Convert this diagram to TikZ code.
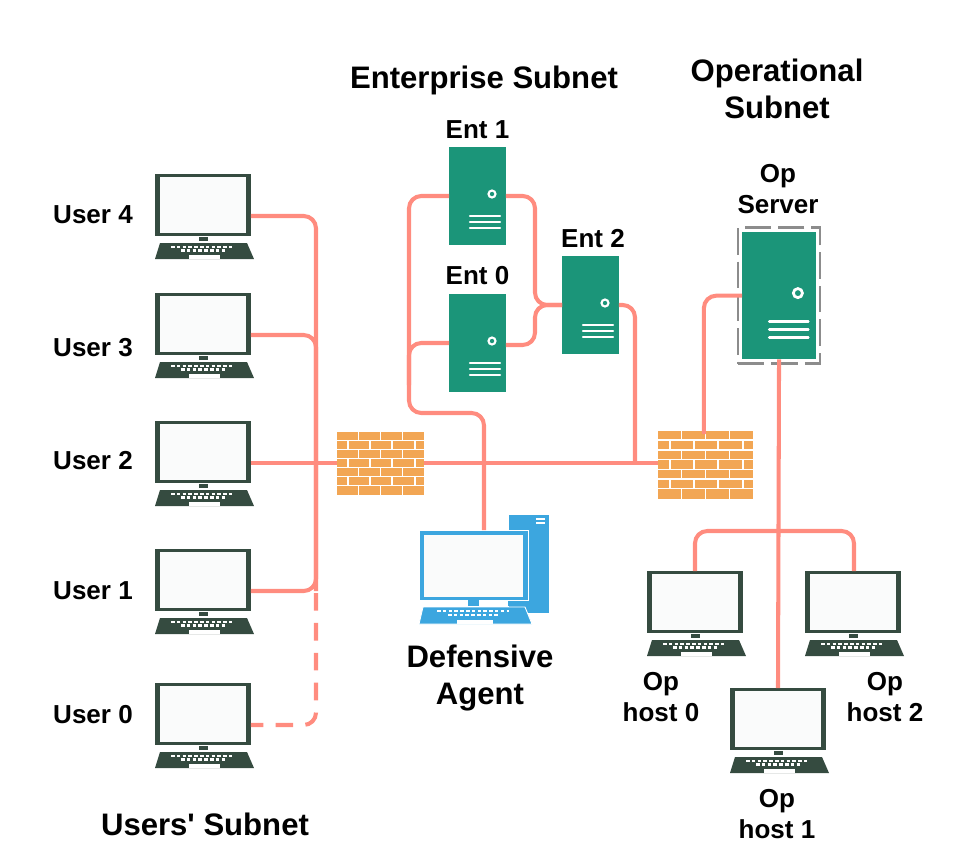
\documentclass[tikz,border=0pt]{standalone}
\usepackage{fontspec}
\setmainfont{Liberation Sans}
\usetikzlibrary{positioning, calc}
\definecolor{linkred}{HTML}{FF8C7F}
\definecolor{srvgreen}{HTML}{1B9579}
\definecolor{wallorange}{HTML}{F2A654}
\definecolor{lapdark}{HTML}{354B40}
\definecolor{agentblue}{HTML}{3CA6DF}
\definecolor{screenwhite}{HTML}{FAFBFB}
\newcommand{\laptopicon}[3]{
    \begin{scope}[shift={(#2,#3)}]
        \node[lapscreen] (#1) at (0,0) {};
        \fill[screenwhite] (5,3) rectangle (91,59);
        \fill[lapdark] (44,63) rectangle (53,67);
        \fill[lapdark] (5,69) -- (92,69) -- (99,85) -- (0,85) -- cycle;
        \draw[keyrow] (16,72.7) -- (79,72.7);
        \draw[keyrow] (26,76.5) -- (70,76.5);
        \fill[white] (34,81) rectangle (65,85);
    \end{scope}
}
\newcommand{\servericon}[4]{
    \begin{scope}[shift={(#2,#3)}, scale=#4]
        \node[srvbox, minimum width=#4*1.14cm, minimum height=#4*1.96cm] (#1) at (0,0) {};
        \draw[white, line width=#4*1.2pt] (43,47) circle (3.5);
        \draw[white, line width=#4*1.2pt, line cap=round] (21,69) -- (51,69) (21,75) -- (51,75) (21,81) -- (51,81);
    \end{scope}
}
\newcommand{\wallicon}[5]{
    \begin{scope}[shift={(#2,#3)}, xscale=#4, yscale=#5]
        \node[wallbox, minimum width=#4*1.74cm, minimum height=#5*1.26cm] (#1) at (0,0) {};
        \foreach \row in {8.5,17.5,...,53.5}
            \draw[brickgap] (0,\row) -- (87,\row);
        \foreach \row in {0,18,36,54}
            \foreach \col in {21.5,43.5,65.5}
                \draw[brickgap] (\col,\row) -- (\col,\row+9);
        \foreach \row in {9,27,45}
            \foreach \col in {11,33,55,78}
                \draw[brickgap] (\col,\row) -- (\col,\row+9);
    \end{scope}
}
\begin{document}
\begin{tikzpicture}[
                x=0.02cm, y=-0.02cm,
                lapscreen/.style={fill=lapdark, anchor=north west, inner sep=0pt, outer sep=0pt, minimum width=1.92cm, minimum height=1.24cm},
                srvbox/.style={fill=srvgreen, anchor=north west, inner sep=0pt, outer sep=0pt},
                wallbox/.style={fill=wallorange, anchor=north west, inner sep=0pt, outer sep=0pt},
                keyrow/.style={white, line width=1.3pt, dash pattern=on 2pt off 1.3pt},
                brickgap/.style={white, line width=0.8pt},
                link/.style={draw=linkred, line width=2.3pt, rounded corners=7pt},
                lbl/.style={font=\fontsize{14.8}{18}\selectfont\bfseries, align=center, inner sep=0pt},
                head/.style={font=\fontsize{17.7}{20.8}\selectfont\bfseries, align=center, inner sep=0pt}
            ]
            \useasboundingbox (0,0) rectangle (978,866);

            \foreach \name/\ypos in {usr4/174, usr3/293, usr2/421, usr1/549, usr0/683} {
                \laptopicon{\name}{155}{\ypos}
            }
            \laptopicon{oph0}{647}{571}
            \laptopicon{oph2}{805}{571}
            \laptopicon{oph1}{730}{688}

            \servericon{ent1}{449}{147}{1}
            \servericon{ent0}{449}{294}{1}
            \servericon{ent2}{562}{256}{1}
            \servericon{opsrv}{742}{232}{1.3}
            \node[draw=black!45, line width=1.5pt, dash pattern=on 15pt off 4pt, minimum width=1.64cm, minimum height=2.72cm, inner sep=0pt] (opframe) at (opsrv.center) {};

            \wallicon{fwa}{337}{432}{1}{1}
            \wallicon{fwb}{658}{431}{1.09}{1.08}

            % defensive agent
            \fill[agentblue, draw=white, line width=0.5pt] (508,514) rectangle (549,613);
            \draw[white, line width=0.8pt] (536,519) -- (545,519) (536,523) -- (545,523);
            \node[fill=agentblue, draw=white, line width=0.5pt, anchor=north west, inner sep=0pt, outer sep=0pt, minimum width=2.18cm, minimum height=1.4cm] (agent) at (419,530) {};
            \fill[screenwhite] (424,535) rectangle (523,597);
            \fill[agentblue] (468,600) rectangle (479,606);
            \fill[agentblue] (508,601) rectangle (528,606);
            \fill[agentblue, draw=white, line width=0.5pt] (423,607) -- (525,607) -- (532,624) -- (419,624) -- cycle;
            \draw[keyrow] (437,611) -- (509,611);
            \draw[keyrow] (448,615) -- (500,615);
            \fill[white] (457,620) rectangle (493,624);

            \coordinate (trunk) at (316,591);
            \coordinate (entbus) at (535,305);
            \coordinate (leftbus) at (409,413);
            \coordinate (leftjoin) at (409,385);
            \coordinate (backbone) at (635,463);
            \coordinate (hostbus) at (775,531);
            \coordinate (usr2port) at ($(usr2.east)+(0,11)$);

            \draw[link] ($(usr4.east)+(0,11)$) -| (trunk) -- ($(usr1.east)+(0,11)$);
            \draw[link] ($(usr3.east)+(0,11)$) -| (trunk);
            \draw[link, dash pattern=on 10pt off 7pt, dash phase=3pt] ($(usr0.east)+(0,11)$) -| (trunk);
            \draw[link] (usr2port) -- (usr2port -| fwa.west);
            \draw[link] (usr2port -| fwa.east) -- (usr2port -| fwb.west);
            \draw[link] (ent1.east) -| (entbus) -- (ent2.west);
            \draw[link] ($(ent0.east)+(0,2)$) -| (entbus) -- (ent2.west);
            \draw[link] (ent2.east) -| (backbone);
            \draw[link] (ent1.west) -| (leftbus) -| ($(agent.north)+(10.5,0)$);
            \draw[link] (ent0.west) -| (leftjoin);
            \draw[link] ($(fwb.north)+(-1.5,3)$) |- (opsrv.west);
            \draw[link] (opsrv.south) -- (oph1.north);
            \draw[link] (oph0.north) |- (hostbus) -| ($(oph2.north)+(1,0)$);

            \foreach \num/\ypos in {4/215, 3/348, 2/461, 1/591, 0/715}
                \node[lbl] (usrlbl\num) at (93,\ypos) {User \num};
            \node[lbl, above=0.15cm of ent1] (entlbla) {Ent 1};
            \node[lbl, above=0.18cm of ent0] (entlblb) {Ent 0};
            \node[lbl, above=0.15cm of ent2, xshift=0.05cm] (entlblc) {Ent 2};
            \node[lbl] (opsrvlbl) at (778,189) {Op\\Server};
            \node[lbl] (oph0lbl) at (661,697) {Op\\host 0};
            \node[lbl] (oph2lbl) at (885,697) {Op\\host 2};
            \node[lbl] (oph1lbl) at (777,814) {Op\\host 1};
            \node[head] (entnet) at (484,80) {Enterprise Subnet};
            \node[head] (opnet) at (777,89) {Operational\\Subnet};
            \node[head] (usrnet) at (205,824) {Users\textquotesingle{} Subnet};
            \node[head] (agentlbl) at (480,678) {Defensive\\Agent};
        \end{tikzpicture}
\end{document}
